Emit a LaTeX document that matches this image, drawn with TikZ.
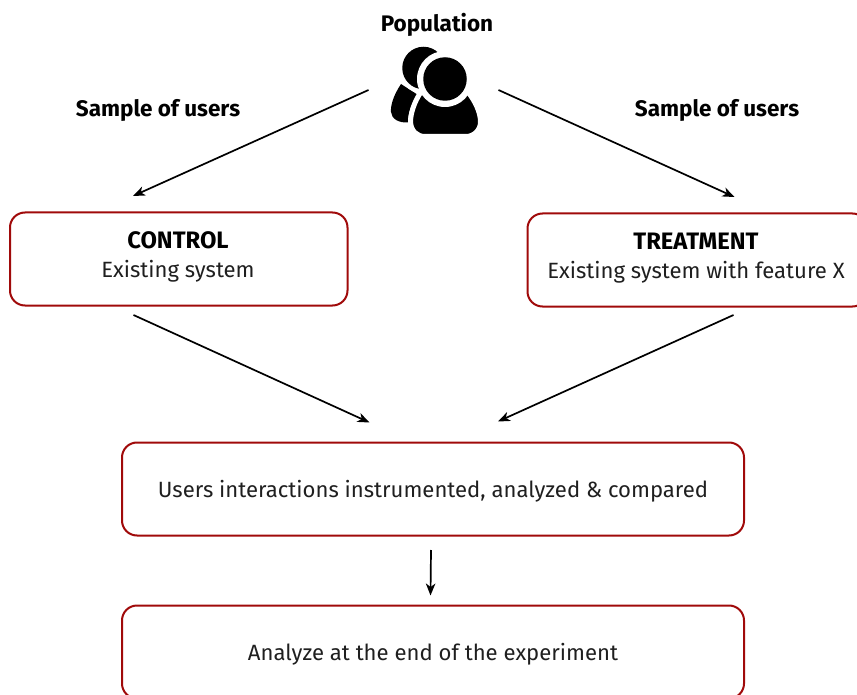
\documentclass[tikz,border=0pt]{standalone}
\usepackage{fontspec}
\setmainfont{Fira Sans}
\usetikzlibrary{arrows.meta}
\definecolor{boxred}{HTML}{A00A0A}
\definecolor{txt}{HTML}{1F1F1F}
\tikzset{
  flowbox/.style={draw=boxred,line width=2pt,rounded corners=15pt,fill=white,inner sep=0pt,outer sep=0pt,anchor=north west},
  boxtext/.style={text=txt,font=\fontsize{22.1}{28}\selectfont,align=center,inner sep=0pt,anchor=base},
  headtext/.style={text=black,font=\fontsize{22.5}{26}\selectfont\bfseries,inner sep=0pt,anchor=base},
  titletext/.style={text=black,font=\fontsize{23.8}{26}\selectfont\bfseries,inner sep=0pt,anchor=base},
  flow/.style={draw=black,line width=1.7pt,-{Stealth[length=12pt,width=9.5pt,inset=3.5pt]}},
  iconblack/.style={fill=black,draw=none},
  iconwhite/.style={fill=white,draw=none}
}
\begin{document}
\begin{tikzpicture}[x=1pt,y=-1pt]
\useasboundingbox (0,0) rectangle (857,695);
% population icon
\path[iconblack] (401,84) .. controls (393,96) and (390.5,106) .. (391,112) .. controls (391.5,119) and (399,123) .. (408,122.5) .. controls (408,112) and (412,102) .. (418,95) -- cycle;
\node[iconwhite,circle,minimum size=51pt,inner sep=0pt] (backring) at (423.5,68) {};
\node[iconblack,circle,minimum size=42.5pt,inner sep=0pt] (backhead) at (423.5,68) {};
\path[fill=black,draw=white,line width=5pt] (421,92) .. controls (414,102) and (410.5,114) .. (410.5,122) .. controls (411,131) and (417,136.5) .. (425,136.5) -- (466,136.5) .. controls (474,136.5) and (480.5,130) .. (480.5,122) .. controls (480.5,112) and (475,101) .. (468,92) -- cycle;
\node[iconwhite,circle,minimum size=56pt,inner sep=0pt] (frontring) at (445,79) {};
\node[iconblack,circle,minimum size=43.5pt,inner sep=0pt] (fronthead) at (445,79) {};
% boxes
\node[flowbox,minimum width=337.5pt,minimum height=93pt] (control) at (10,212.5) {};
\node[flowbox,minimum width=340pt,minimum height=93pt] (treatment) at (527.5,213.5) {};
\node[flowbox,minimum width=622pt,minimum height=93pt] (measure) at (122,442.5) {};
\node[flowbox,minimum width=622pt,minimum height=93pt] (analyze) at (122,605.5) {};
% texts
\node[headtext] (population) at (437,32) {Population};
\node[headtext] (sampleleft) at (158,117) {Sample of users};
\node[headtext] (sampleright) at (717,117) {Sample of users};
\node[titletext] (controltitle) at (178,249) {CONTROL};
\node[boxtext] (controlsub) at (178,277) {Existing system};
\node[titletext] (treattitle) at (696,250) {TREATMENT};
\node[boxtext] (treatsub) at (696,278) {Existing system with feature X};
\node[boxtext] (measuretext) at (433,497) {Users interactions instrumented, analyzed \& compared};
\node[boxtext] (analyzetext) at (433,660) {Analyze at the end of the experiment};
% connector ends
\coordinate (popleft) at (368.5,90);
\coordinate (popright) at (498.5,90);
\coordinate (controlin) at (133,196);
\coordinate (treatin) at (734.5,197);
\coordinate (controlout) at (133.5,315);
\coordinate (treatout) at (733.5,315);
\coordinate (measleft) at (369.5,422.5);
\coordinate (measright) at (498,421.5);
\coordinate (measout) at (431,550);
\coordinate (analyzein) at (430.5,595.5);
\draw[flow] (popleft) -- (controlin);
\draw[flow] (popright) -- (treatin);
\draw[flow] (controlout) -- (measleft);
\draw[flow] (treatout) -- (measright);
\draw[flow] (measout) -- (analyzein);
\end{tikzpicture}
\end{document}
